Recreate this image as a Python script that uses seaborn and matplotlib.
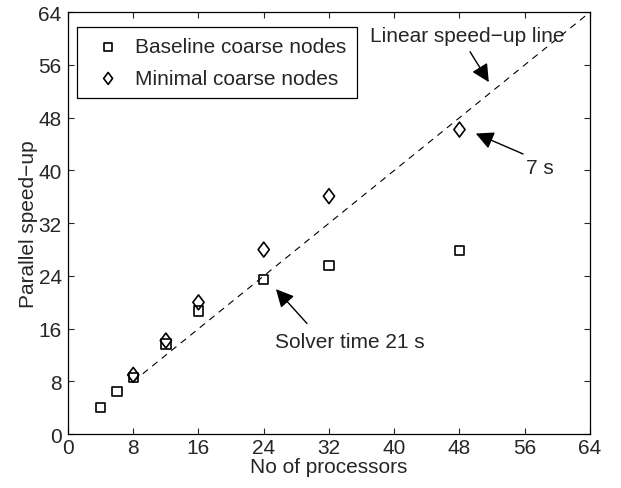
import matplotlib
matplotlib.use("Agg")
import matplotlib.pyplot as plt
import matplotlib.path as mpath
import seaborn as sns
import pandas as pd

# Data
procs_base = [4, 6, 8, 12, 16, 24, 32, 48]
speedup_base = [4.1, 6.5, 8.6, 13.7, 18.7, 23.5, 25.6, 27.9]
procs_min = [8, 12, 16, 24, 32, 48]
speedup_min = [9.0, 14.2, 20.0, 28.0, 36.1, 46.2]
linear_x = [8, 64]
linear_y = [8, 64]
ticks = [0, 8, 16, 24, 32, 40, 48, 56, 64]

sns.set_theme(style="ticks")
plt.rcParams['font.family'] = ['Liberation Sans', 'DejaVu Sans']
FS = 15

fig = plt.figure(figsize=(6.21, 4.89), dpi=100)
ax = fig.add_axes([0.1095, 0.110, 0.8405, 0.863])

sns.lineplot(x=linear_x, y=linear_y, ax=ax, color='black', lw=0.8,
             linestyle=(0, (6, 5)), legend=False)

diamond = mpath.Path([(0, 1), (0.75, 0), (0, -1), (-0.75, 0), (0, 1)],
                     [1, 2, 2, 2, 79])

df_b = pd.DataFrame({"x": procs_base, "y": speedup_base})
df_m = pd.DataFrame({"x": procs_min, "y": speedup_min})
sns.scatterplot(data=df_b, x="x", y="y", ax=ax, marker='s', s=45,
                facecolor='none', edgecolor='black', linewidth=1.2,
                label='Baseline coarse nodes', zorder=3)
sns.scatterplot(data=df_m, x="x", y="y", ax=ax, marker=diamond, s=115,
                facecolor='none', edgecolor='black', linewidth=1.2,
                label='Minimal coarse nodes', zorder=3)

ax.set_xlim(0, 64)
ax.set_ylim(0, 64)
ax.set_xticks(ticks)
ax.set_yticks(ticks)
ax.set_xlabel("No of processors", fontsize=FS, labelpad=0)
ax.set_ylabel("Parallel speed\u2212up", fontsize=FS, labelpad=0.5)
ax.tick_params(direction='in', top=True, right=True, length=4, width=0.8,
               labelsize=FS)
ax.tick_params(axis='y', pad=4.5)
ax.tick_params(axis='x', pad=3)
for sp in ax.spines.values():
    sp.set_linewidth(0.9)
    sp.set_color('black')

leg = ax.legend(loc='upper left', bbox_to_anchor=(0.017, 0.965),
                borderaxespad=0, frameon=True, fancybox=False,
                edgecolor='black', fontsize=FS,
                handletextpad=0.3, borderpad=0.5, labelspacing=0.6,
                markerscale=0.8)
leg.get_frame().set_linewidth(0.9)
leg.get_frame().set_alpha(1)

ap = dict(arrowstyle='-|>,head_length=0.9,head_width=0.45', color='black',
          lw=1.0, shrinkA=0, shrinkB=0)
ax.text(48.9, 60.4, "Linear speed\u2212up line", ha='center', va='center',
        fontsize=FS)
ax.annotate("", xy=(51.6, 53.4), xytext=(49.3, 58.0), arrowprops=ap)
ax.text(57.8, 40.4, "7 s", ha='center', va='center', fontsize=FS)
ax.annotate("", xy=(50.0, 45.6), xytext=(55.8, 42.5), arrowprops=ap)
ax.text(34.6, 14.0, "Solver time 21 s", ha='center', va='center',
        fontsize=FS)
ax.annotate("", xy=(25.5, 22.0), xytext=(29.3, 16.8), arrowprops=ap)

fig.savefig("out.png", dpi=100)
